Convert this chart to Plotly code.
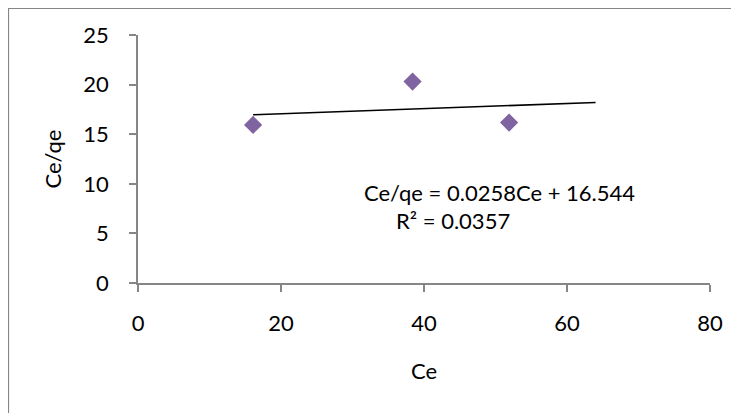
import numpy as np
import plotly.graph_objects as go

ce = [16.1, 38.4, 51.9]
ce_qe = [15.94, 20.3, 16.17]
trend_end = 64.0
x_ticks = [0, 20, 40, 60, 80]
y_ticks = [0, 5, 10, 15, 20, 25]
eq_text = "Ce/qe = 0.0258Ce + 16.544"
r2_text = "R² = 0.0357"

slope, intercept = 0.0258, 16.544
tx = [min(ce), trend_end]
ty = [slope * v + intercept for v in tx]

OFF = 8  # page body margin
W, H = 739 - OFF, 413 - OFF
ml, mt = 138 - OFF, 35 - OFF
pw, ph = 710 - 138, 283 - 35
mr, mb = W - ml - pw, H - mt - ph

FONT = "Lato"
FS = 22
AX = "#868686"


def px_x(x):
    return (x - OFF - ml) / pw


def px_y(y):
    return (mt + ph - (y - OFF)) / ph


fig = go.Figure()
fig.add_trace(go.Scatter(x=tx, y=ty, mode="lines",
                         line=dict(color="black", width=1.6),
                         showlegend=False, hoverinfo="skip"))
fig.add_trace(go.Scatter(x=ce, y=ce_qe, mode="markers",
                         marker=dict(symbol="diamond", size=14, color="#8064A2",
                                     line=dict(width=0)),
                         showlegend=False))

fig.add_annotation(x=px_x(362), y=px_y(192), xref="paper", yref="paper",
                   text=eq_text, showarrow=False, xanchor="left", yanchor="middle",
                   font=dict(family=FONT, size=FS, color="black"))
fig.add_annotation(x=px_x(394), y=px_y(220), xref="paper", yref="paper",
                   text=r2_text, showarrow=False, xanchor="left", yanchor="middle",
                   font=dict(family=FONT, size=FS, color="black"))

# outer chart frame
fig.add_shape(type="rect", xref="paper", yref="paper",
              x0=px_x(8.5), x1=px_x(760),
              y0=px_y(440), y1=px_y(8.5),
              line=dict(color=AX, width=1.2), fillcolor="rgba(0,0,0,0)", layer="below")

fig.update_layout(
    width=W, height=H,
    margin=dict(l=ml, r=mr, t=mt, b=mb, pad=0),
    paper_bgcolor="white", plot_bgcolor="white",
    font=dict(family=FONT, size=FS, color="black"),
    xaxis=dict(range=[0, 80], tickvals=x_ticks, showgrid=False, zeroline=False,
               showline=True, linecolor=AX, linewidth=1.5,
               ticks="outside", ticklen=7, tickcolor=AX, tickwidth=1.5,
               ticklabelstandoff=13,
               title=dict(text="Ce", font=dict(family=FONT, size=FS), standoff=28)),
    yaxis=dict(range=[0, 25], tickvals=y_ticks, showgrid=False, zeroline=False,
               showline=True, linecolor=AX, linewidth=1.5,
               ticks="outside", ticklen=7, tickcolor=AX, tickwidth=1.5,
               ticklabelstandoff=16,
               title=dict(text="Ce/qe", font=dict(family=FONT, size=FS), standoff=16)),
)

fig.write_html("out.html")
